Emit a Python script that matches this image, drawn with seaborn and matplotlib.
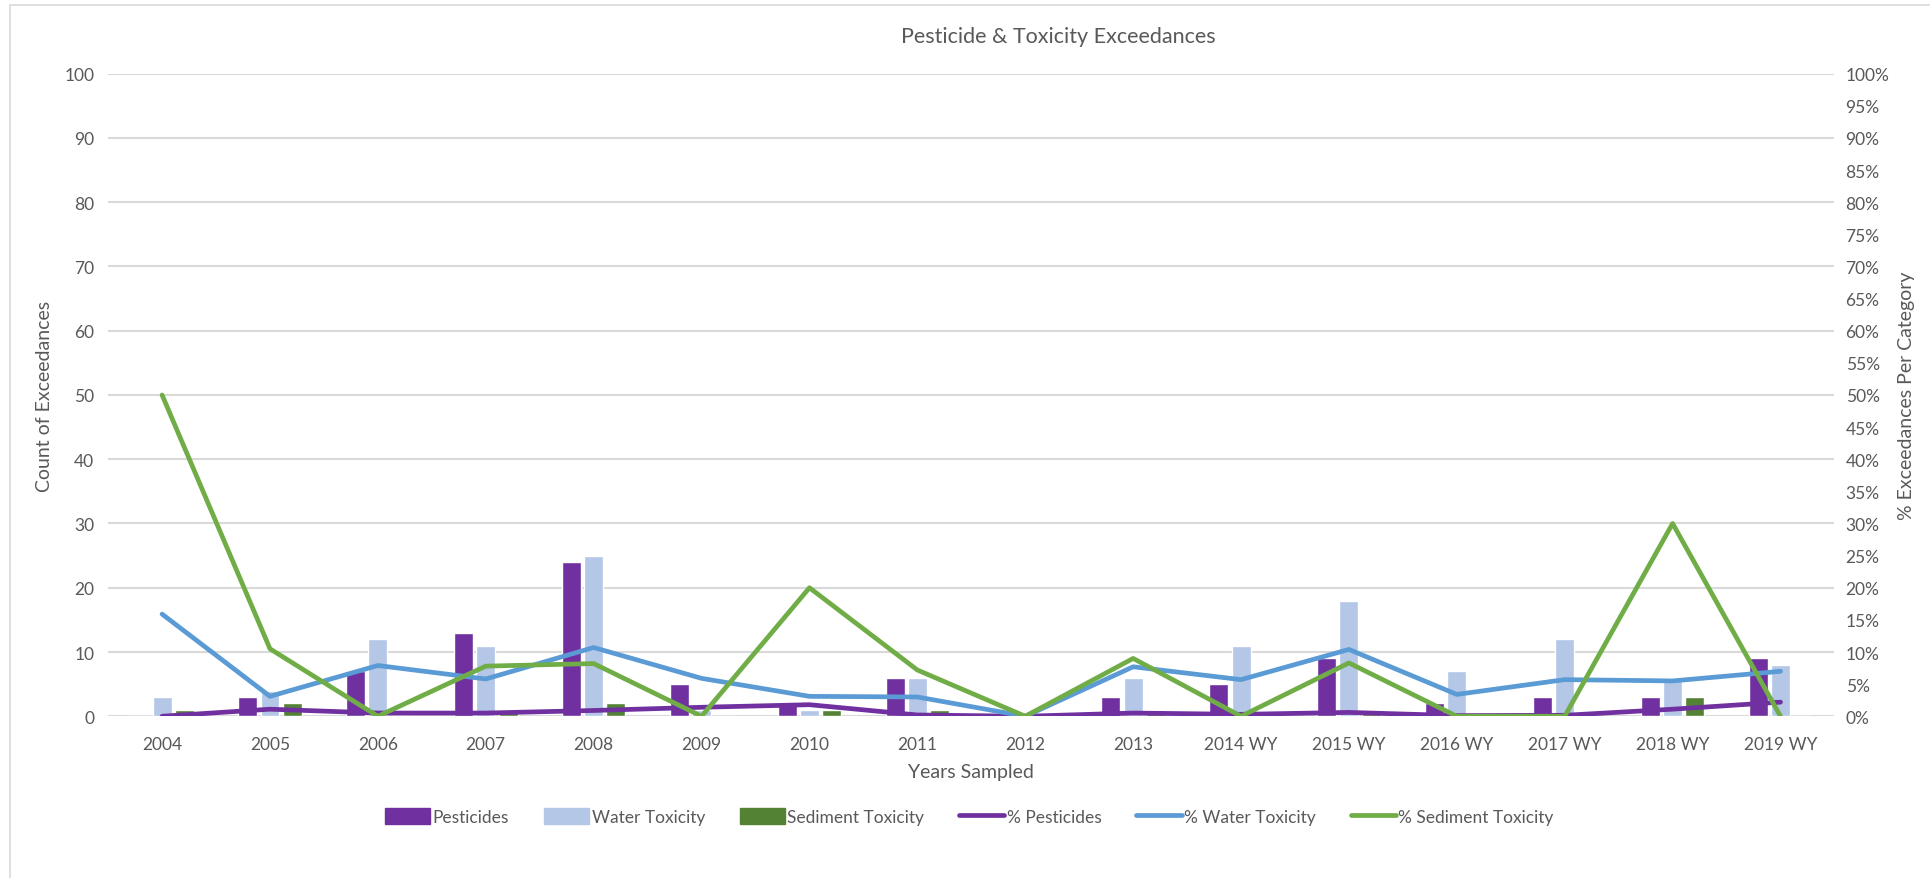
import numpy as np
import pandas as pd
import matplotlib
matplotlib.use("Agg")
import matplotlib.pyplot as plt
import seaborn as sns
from matplotlib.patches import Rectangle
from matplotlib.lines import Line2D
from matplotlib.ticker import PercentFormatter

years = ["2004", "2005", "2006", "2007", "2008", "2009", "2010", "2011",
         "2012", "2013", "2014 WY", "2015 WY", "2016 WY", "2017 WY",
         "2018 WY", "2019 WY"]
pesticides = [0, 3, 7, 13, 24, 5, 2, 6, 0, 3, 5, 9, 2, 3, 3, 9]
water_tox = [3, 4, 12, 11, 25, 1, 1, 6, 0, 6, 11, 18, 7, 12, 6, 8]
sediment_tox = [1, 2, 0, 1, 2, 0, 1, 1, 0, 1, 0, 1, 0, 0, 3, 0]
pct_pesticides = [0, 1.1, 0.5, 0.5, 0.9, 1.4, 1.8, 0.2, 0, 0.5, 0.3, 0.6, 0.1, 0.15, 1.1, 2.2]
pct_water = [15.9, 3.1, 7.9, 5.8, 10.7, 5.9, 3.1, 3.0, 0, 7.7, 5.7, 10.4, 3.4, 5.7, 5.5, 7.0]
pct_sediment = [50, 10.5, 0, 7.8, 8.2, 0, 20, 7.2, 0, 9.0, 0, 8.3, 0, 0, 30, 0]

bar_names = ["Pesticides", "Water Toxicity", "Sediment Toxicity"]
bar_colors = ["#7030A0", "#B4C7E7", "#548235"]
line_names = ["% Pesticides", "% Water Toxicity", "% Sediment Toxicity"]
line_colors = ["#7030A0", "#5B9BD5", "#70AD47"]

counts = pd.DataFrame({"year": years, "Pesticides": pesticides,
                       "Water Toxicity": water_tox,
                       "Sediment Toxicity": sediment_tox})
counts = counts.melt(id_vars="year", var_name="category", value_name="count")

pos = np.arange(len(years))
pcts = pd.DataFrame({"pos": pos, "% Pesticides": pct_pesticides,
                     "% Water Toxicity": pct_water,
                     "% Sediment Toxicity": pct_sediment})
pcts = pcts.melt(id_vars="pos", var_name="series", value_name="pct")

sns.set_theme(style="white")
plt.rcParams["font.family"] = ["Lato", "DejaVu Sans"]
text_color = "#595959"

fig = plt.figure(figsize=(19.31, 8.79), dpi=100)
ax = fig.add_axes([0.056, 0.184, 0.894, 0.731])

sns.barplot(data=counts, x="year", y="count", hue="category",
            hue_order=bar_names, palette=bar_colors, width=0.62, gap=0.15,
            saturation=1, legend=False, ax=ax, zorder=2)

ax.set_ylim(0, 100)
ax.set_yticks(np.arange(0, 101, 10))
ax.set_xlim(-0.5, len(years) - 0.5)
ax.grid(axis="y", color="#D9D9D9", linewidth=1.5, zorder=0)
ax.set_axisbelow(True)
for s in ax.spines.values():
    s.set_visible(False)
ax.tick_params(axis="both", length=0, labelsize=12.5, colors=text_color)
ax.tick_params(axis="x", pad=14)
ax.tick_params(axis="y", pad=10)
ax.set_xlabel("Years Sampled", fontsize=14, color=text_color, labelpad=8)
ax.set_ylabel("Count of Exceedances", fontsize=14, color=text_color, labelpad=8)

ax2 = ax.twinx()
sns.lineplot(data=pcts, x="pos", y="pct", hue="series", hue_order=line_names,
             palette=line_colors, linewidth=3.4, legend=False, ax=ax2,
             solid_joinstyle="round", solid_capstyle="round")
ax2.set_ylim(0, 100)
ax2.set_yticks(np.arange(0, 101, 5))
ax2.yaxis.set_major_formatter(PercentFormatter(decimals=0))
ax2.set_xlim(-0.5, len(years) - 0.5)
for s in ax2.spines.values():
    s.set_visible(False)
ax2.tick_params(axis="y", length=0, labelsize=12.5, colors=text_color, pad=8)
ax2.set_ylabel("% Exceedances Per Category", fontsize=14, color=text_color,
               labelpad=6)

fig.text(0.548, 0.958, "Pesticide & Toxicity Exceedances", ha="center",
         va="center", fontsize=15.5, color=text_color)

handles = [Rectangle((0, 0), 1, 1, color=c) for c in bar_colors]
handles += [Line2D([0], [0], color=c, linewidth=3.4) for c in line_colors]
fig.legend(handles, bar_names + line_names, loc="center", ncol=6,
           bbox_to_anchor=(0.502, 0.07), frameon=False, fontsize=12.5,
           labelcolor=text_color, handlelength=2.6, handleheight=1.0,
           handletextpad=0.15, columnspacing=2.0)

fig.patches.append(Rectangle((0.005, -0.05), 1.2, 1.043, transform=fig.transFigure,
                             fill=False, edgecolor="#D9D9D9", linewidth=1.2))

fig.savefig("out.png", dpi=100)
